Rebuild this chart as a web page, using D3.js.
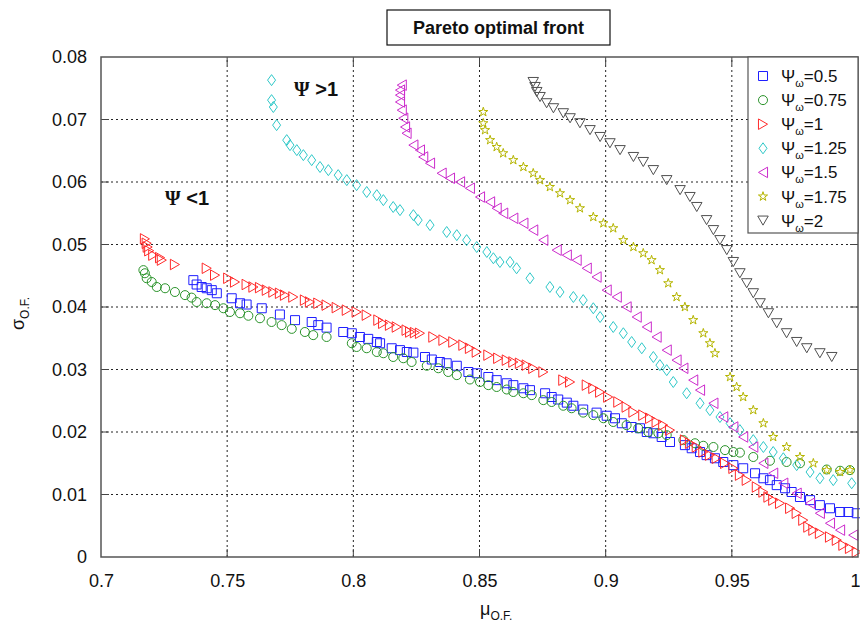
<!DOCTYPE html>
<html><head><meta charset="utf-8">
<script src="https://cdn.jsdelivr.net/npm/d3@7"></script>
<style>body{margin:0;background:#fff}svg{display:block}text{font-family:"Liberation Sans",Arial,sans-serif}</style>
</head><body>
<svg id="c" width="860" height="627"></svg>
<script>
const xTicks=[0.7,0.75,0.8,0.85,0.9,0.95,1];
const yTicks=[0,0.01,0.02,0.03,0.04,0.05,0.06,0.07,0.08];
const seriesNames=["0.5","0.75","1","1.25","1.5","1.75","2"];
const psi05=[[0.7366,0.0443],[0.7379,0.0436],[0.7399,0.0432],[0.7419,0.0430],[0.7439,0.0427],[0.7459,0.0422],[0.7518,0.0414],[0.7551,0.0406],[0.7577,0.0404],[0.7637,0.0398],[0.7709,0.0388],[0.7769,0.0379],[0.7835,0.0376],[0.7861,0.0371],[0.7894,0.0367],[0.7960,0.0360],[0.7994,0.0358],[0.8026,0.0352],[0.8059,0.0349],[0.8093,0.0344],[0.8106,0.0342],[0.8152,0.0334],[0.8185,0.0331],[0.8212,0.0328],[0.8238,0.0327],[0.8284,0.0320],[0.8311,0.0316],[0.8343,0.0312],[0.8370,0.0310],[0.8410,0.0306],[0.8456,0.0296],[0.8489,0.0294],[0.8535,0.0288],[0.8568,0.0283],[0.8608,0.0278],[0.8634,0.0275],[0.8674,0.0270],[0.8700,0.0267],[0.8760,0.0262],[0.8786,0.0256],[0.8812,0.0252],[0.8846,0.0247],[0.8872,0.0242],[0.8911,0.0236],[0.8964,0.0231],[0.9004,0.0226],[0.9037,0.0222],[0.9064,0.0214],[0.9103,0.0208],[0.9136,0.0206],[0.9163,0.0200],[0.9189,0.0198],[0.9222,0.0192],[0.9255,0.0184],[0.9314,0.0179],[0.9341,0.0174],[0.9374,0.0168],[0.9400,0.0163],[0.9433,0.0158],[0.9466,0.0152],[0.9506,0.0147],[0.9545,0.0142],[0.9592,0.0134],[0.9625,0.0126],[0.9651,0.0123],[0.9678,0.0115],[0.9711,0.0110],[0.9737,0.0104],[0.9770,0.0096],[0.9810,0.0091],[0.9849,0.0083],[0.9889,0.0078],[0.9929,0.0072],[0.9962,0.0072],[0.9995,0.0070]];
const psi075=[[0.7168,0.0459],[0.7174,0.0454],[0.7181,0.0446],[0.7201,0.0440],[0.7221,0.0432],[0.7254,0.0430],[0.7293,0.0424],[0.7333,0.0419],[0.7359,0.0415],[0.7379,0.0408],[0.7419,0.0406],[0.7452,0.0403],[0.7485,0.0398],[0.7511,0.0392],[0.7551,0.0390],[0.7584,0.0386],[0.7630,0.0382],[0.7676,0.0376],[0.7716,0.0371],[0.7756,0.0365],[0.7808,0.0360],[0.7841,0.0355],[0.7894,0.0352],[0.7994,0.0342],[0.8013,0.0336],[0.8053,0.0334],[0.8093,0.0328],[0.8119,0.0326],[0.8158,0.0320],[0.8198,0.0318],[0.8231,0.0312],[0.8291,0.0306],[0.8337,0.0302],[0.8376,0.0296],[0.8410,0.0291],[0.8462,0.0284],[0.8502,0.0280],[0.8535,0.0275],[0.8568,0.0272],[0.8608,0.0268],[0.8634,0.0264],[0.8674,0.0262],[0.8707,0.0259],[0.8753,0.0251],[0.8786,0.0248],[0.8832,0.0242],[0.8865,0.0238],[0.8911,0.0231],[0.8951,0.0227],[0.8991,0.0222],[0.9030,0.0216],[0.9083,0.0211],[0.9129,0.0206],[0.9169,0.0200],[0.9209,0.0198],[0.9242,0.0195],[0.9308,0.0187],[0.9354,0.0182],[0.9387,0.0178],[0.9427,0.0176],[0.9473,0.0171],[0.9506,0.0168],[0.9532,0.0167],[0.9585,0.0160],[0.9651,0.0154],[0.9717,0.0152],[0.9770,0.0150],[0.9876,0.0140],[0.9929,0.0138],[0.9968,0.0139]];
const psi1=[[0.7174,0.0509],[0.7181,0.0502],[0.7185,0.0496],[0.7191,0.0490],[0.7207,0.0483],[0.7234,0.0479],[0.7241,0.0475],[0.7293,0.0468],[0.7419,0.0462],[0.7452,0.0451],[0.7504,0.0446],[0.7531,0.0440],[0.7577,0.0436],[0.7604,0.0432],[0.7630,0.0431],[0.7657,0.0427],[0.7683,0.0424],[0.7709,0.0422],[0.7729,0.0419],[0.7762,0.0416],[0.7808,0.0411],[0.7828,0.0408],[0.7861,0.0406],[0.7894,0.0403],[0.7934,0.0399],[0.7974,0.0395],[0.8013,0.0392],[0.8053,0.0387],[0.8099,0.0379],[0.8118,0.0374],[0.8145,0.0371],[0.8172,0.0368],[0.8211,0.0363],[0.8225,0.0360],[0.8244,0.0359],[0.8264,0.0358],[0.8317,0.0352],[0.8357,0.0347],[0.8396,0.0344],[0.8436,0.0339],[0.8462,0.0334],[0.8489,0.0328],[0.8535,0.0323],[0.8574,0.0318],[0.8608,0.0315],[0.8634,0.0312],[0.8660,0.0310],[0.8687,0.0307],[0.8713,0.0302],[0.8753,0.0296],[0.8832,0.0283],[0.8859,0.0280],[0.8925,0.0275],[0.8951,0.0270],[0.8978,0.0264],[0.9010,0.0256],[0.9050,0.0248],[0.9083,0.0240],[0.9110,0.0232],[0.9149,0.0227],[0.9176,0.0222],[0.9202,0.0216],[0.9228,0.0211],[0.9255,0.0203],[0.9314,0.0187],[0.9334,0.0182],[0.9361,0.0176],[0.9387,0.0168],[0.9413,0.0163],[0.9440,0.0158],[0.9473,0.0150],[0.9506,0.0142],[0.9532,0.0131],[0.9559,0.0123],[0.9599,0.0112],[0.9625,0.0104],[0.9645,0.0096],[0.9664,0.0091],[0.9691,0.0086],[0.9731,0.0078],[0.9757,0.0070],[0.9783,0.0059],[0.9803,0.0048],[0.9823,0.0043],[0.9849,0.0038],[0.9889,0.0032],[0.9916,0.0027],[0.9942,0.0019],[0.9968,0.0014],[0.9995,0.0008]];
const psi125=[[0.7676,0.0763],[0.7676,0.0731],[0.7683,0.0720],[0.7696,0.0691],[0.7736,0.0667],[0.7749,0.0659],[0.7776,0.0651],[0.7802,0.0643],[0.7835,0.0635],[0.7868,0.0624],[0.7901,0.0619],[0.7940,0.0611],[0.7974,0.0603],[0.8013,0.0595],[0.8053,0.0584],[0.8093,0.0579],[0.8119,0.0571],[0.8158,0.0560],[0.8185,0.0555],[0.8238,0.0547],[0.8257,0.0539],[0.8304,0.0531],[0.8370,0.0520],[0.8410,0.0515],[0.8449,0.0507],[0.8489,0.0496],[0.8529,0.0488],[0.8555,0.0478],[0.8581,0.0472],[0.8621,0.0472],[0.8647,0.0462],[0.8700,0.0446],[0.8779,0.0432],[0.8819,0.0424],[0.8872,0.0416],[0.8911,0.0411],[0.8951,0.0398],[0.8978,0.0384],[0.9030,0.0368],[0.9070,0.0358],[0.9103,0.0344],[0.9143,0.0334],[0.9189,0.0320],[0.9215,0.0307],[0.9242,0.0299],[0.9268,0.0280],[0.9321,0.0262],[0.9374,0.0246],[0.9413,0.0235],[0.9453,0.0224],[0.9493,0.0214],[0.9532,0.0203],[0.9585,0.0187],[0.9625,0.0176],[0.9664,0.0168],[0.9704,0.0158],[0.9757,0.0147],[0.9810,0.0136],[0.9849,0.0126],[0.9902,0.0123],[0.9975,0.0118]];
const psi15=[[0.8192,0.0755],[0.8185,0.0747],[0.8185,0.0739],[0.8185,0.0728],[0.8192,0.0715],[0.8198,0.0702],[0.8205,0.0688],[0.8211,0.0678],[0.8238,0.0659],[0.8264,0.0651],[0.8277,0.0640],[0.8304,0.0630],[0.8350,0.0614],[0.8383,0.0606],[0.8423,0.0600],[0.8462,0.0590],[0.8502,0.0576],[0.8542,0.0568],[0.8568,0.0558],[0.8594,0.0550],[0.8634,0.0542],[0.8674,0.0534],[0.8713,0.0523],[0.8753,0.0507],[0.8806,0.0491],[0.8846,0.0483],[0.8885,0.0475],[0.8925,0.0462],[0.8964,0.0448],[0.9004,0.0427],[0.9044,0.0416],[0.9083,0.0400],[0.9123,0.0384],[0.9163,0.0368],[0.9202,0.0352],[0.9242,0.0331],[0.9281,0.0315],[0.9308,0.0302],[0.9347,0.0283],[0.9374,0.0267],[0.9427,0.0246],[0.9466,0.0224],[0.9506,0.0208],[0.9545,0.0192],[0.9585,0.0176],[0.9625,0.0150],[0.9664,0.0134],[0.9704,0.0118],[0.9757,0.0102],[0.9810,0.0086],[0.9849,0.0070],[0.9889,0.0054],[0.9929,0.0043],[0.9981,0.0035]];
const psi175=[[0.8515,0.0712],[0.8515,0.0694],[0.8522,0.0683],[0.8542,0.0667],[0.8568,0.0656],[0.8594,0.0646],[0.8634,0.0635],[0.8674,0.0624],[0.8713,0.0614],[0.8740,0.0603],[0.8779,0.0592],[0.8819,0.0582],[0.8859,0.0571],[0.8898,0.0558],[0.8951,0.0544],[0.8991,0.0534],[0.9030,0.0526],[0.9070,0.0507],[0.9110,0.0496],[0.9149,0.0486],[0.9182,0.0475],[0.9215,0.0459],[0.9248,0.0438],[0.9281,0.0416],[0.9314,0.0400],[0.9347,0.0379],[0.9387,0.0358],[0.9413,0.0342],[0.9433,0.0326],[0.9493,0.0288],[0.9519,0.0272],[0.9545,0.0256],[0.9585,0.0235],[0.9625,0.0214],[0.9664,0.0192],[0.9717,0.0176],[0.9770,0.0160],[0.9823,0.0150],[0.9876,0.0139],[0.9929,0.0136],[0.9968,0.0139]];
const psi2=[[0.8713,0.0760],[0.8720,0.0752],[0.8727,0.0744],[0.8740,0.0736],[0.8766,0.0726],[0.8793,0.0718],[0.8832,0.0710],[0.8859,0.0702],[0.8898,0.0694],[0.8938,0.0683],[0.8978,0.0672],[0.9017,0.0662],[0.9057,0.0651],[0.9110,0.0640],[0.9149,0.0632],[0.9189,0.0619],[0.9242,0.0603],[0.9295,0.0587],[0.9334,0.0576],[0.9361,0.0560],[0.9400,0.0539],[0.9427,0.0523],[0.9453,0.0507],[0.9480,0.0491],[0.9506,0.0472],[0.9532,0.0454],[0.9559,0.0438],[0.9585,0.0422],[0.9612,0.0406],[0.9645,0.0390],[0.9678,0.0374],[0.9717,0.0358],[0.9757,0.0344],[0.9797,0.0334],[0.9849,0.0326],[0.9896,0.0320]];
const seriesData=[psi05,psi075,psi1,psi125,psi15,psi175,psi2];
const colors=["#1f1fff","#2a932a","#ff2a2a","#2ec8c8","#cc2ccc","#b5b500","#505050"];

const svg=d3.select("#c");
const x=d3.scaleLinear().domain([0.7,1]).range([101,858]);
const y=d3.scaleLinear().domain([0,0.08]).range([557,57]);

// grid
const g=svg.append("g");
g.selectAll(".gx").data(xTicks.slice(1,-1)).join("line")
 .attr("x1",d=>x(d)).attr("x2",d=>x(d)).attr("y1",y(0)).attr("y2",y(0.08))
 .attr("stroke","#222").attr("stroke-dasharray","2,3").attr("stroke-width",1);
g.selectAll(".gy").data(yTicks.slice(1,-1)).join("line")
 .attr("y1",d=>y(d)).attr("y2",d=>y(d)).attr("x1",x(0.7)).attr("x2",x(1))
 .attr("stroke","#222").attr("stroke-dasharray","2,3").attr("stroke-width",1);
// inward ticks
xTicks.slice(1,-1).forEach(t=>{
  g.append("line").attr("x1",x(t)).attr("x2",x(t)).attr("y1",y(0)).attr("y2",y(0)-8).attr("stroke","#444");
  g.append("line").attr("x1",x(t)).attr("x2",x(t)).attr("y1",y(0.08)).attr("y2",y(0.08)+8).attr("stroke","#444");
});
yTicks.slice(1,-1).forEach(t=>{
  g.append("line").attr("y1",y(t)).attr("y2",y(t)).attr("x1",x(0.7)).attr("x2",x(0.7)+8).attr("stroke","#444");
  g.append("line").attr("y1",y(t)).attr("y2",y(t)).attr("x1",x(1)).attr("x2",x(1)-8).attr("stroke","#444");
});

// axes labels
const xa=svg.append("g").attr("transform",`translate(0,${y(0)})`)
 .call(d3.axisBottom(x).tickValues(xTicks).tickSize(0).tickPadding(17).tickFormat(d=>String(+d.toFixed(2))));
xa.select(".domain").remove();
xa.selectAll("text").attr("font-size",18).attr("fill","#111").style("font-family","'Liberation Sans',Arial,sans-serif");
xa.selectAll("text").filter(d=>d===1).attr("text-anchor","end").attr("dx",2);
const ya=svg.append("g").attr("transform",`translate(${x(0.7)},0)`)
 .call(d3.axisLeft(y).tickValues(yTicks).tickSize(0).tickPadding(14).tickFormat(d=>String(+d.toFixed(2))));
ya.select(".domain").remove();
ya.selectAll("text").attr("font-size",18).attr("fill","#111").style("font-family","'Liberation Sans',Arial,sans-serif");

// markers
function trianglePath(dir,s){
  const h=s*0.866;
  if(dir==="right") return `M${-h/2},${-s/2}L${h/2},0L${-h/2},${s/2}Z`;
  if(dir==="left") return `M${h/2},${-s/2}L${-h/2},0L${h/2},${s/2}Z`;
  return `M${-s/2},${-h/2}L${s/2},${-h/2}L0,${h/2}Z`;
}
const markerPaths=[
  "M-4.5,-4.5H4.5V4.5H-4.5Z",
  d3.symbol(d3.symbolCircle,64)(),
  trianglePath("right",10.5),
  "M0,-5.5L4,0L0,5.5L-4,0Z",
  trianglePath("left",10.5),
  d3.symbol(d3.symbolStar,26)(),
  trianglePath("down",10.5)
];
seriesData.forEach((data,i)=>{
  svg.append("g").selectAll("path").data(data).join("path")
   .attr("d",markerPaths[i])
   .attr("transform",d=>`translate(${x(d[0])},${y(d[1])})`)
   .attr("fill","none").attr("stroke",colors[i]).attr("stroke-width",1);
});

// frame
svg.append("rect").attr("x",x(0.7)).attr("y",y(0.08)).attr("width",x(1)-x(0.7)).attr("height",y(0)-y(0.08))
 .attr("fill","none").attr("stroke","#555").attr("stroke-width",1.5);

// legend
const lg=svg.append("g");
lg.append("rect").attr("x",748).attr("y",57).attr("width",110).attr("height",176)
 .attr("fill","#fff").attr("stroke","#555").attr("stroke-width",1.2);
seriesNames.forEach((n,i)=>{
  const cy=76+i*24.1;
  lg.append("path").attr("d",markerPaths[i]).attr("transform",`translate(763,${cy})`)
   .attr("fill","none").attr("stroke",colors[i]).attr("stroke-width",1);
  const t=lg.append("text").attr("x",781).attr("y",cy+6).attr("font-size",17).attr("fill","#111");
  t.append("tspan").text("Ψ");
  t.append("tspan").attr("font-size",11).attr("dy",5).text("ω");
  t.append("tspan").attr("dy",-5).text("="+n);
});

// title
svg.append("rect").attr("x",387).attr("y",10).attr("width",223).attr("height",35)
 .attr("fill","#fff").attr("stroke","#111").attr("stroke-width",1.2);
svg.append("text").attr("x",498.5).attr("y",34).attr("text-anchor","middle")
 .attr("font-size",18).attr("font-weight","bold").attr("fill","#111").text("Pareto optimal front");

// annotations
function annot(px,py,txt){
  const t=svg.append("text").attr("x",px).attr("y",py).attr("font-size",20).attr("font-weight","bold").attr("fill","#111");
  t.append("tspan").style("font-family","'Liberation Serif',serif").text("Ψ");
  t.append("tspan").text(" "+txt);
}
annot(x(0.7254),y(0.0563),"<1");
annot(x(0.7765),y(0.0738),">1");

// axis titles
const xt=svg.append("text").attr("x",480).attr("y",615).attr("font-size",18).attr("fill","#111");
xt.append("tspan").text("μ");
xt.append("tspan").attr("font-size",12).attr("dy",5).text("O.F.");
const yt=svg.append("text").attr("transform","translate(24,330) rotate(-90)").attr("font-size",18).attr("fill","#111");
yt.append("tspan").text("σ");
yt.append("tspan").attr("font-size",12).attr("dy",5).text("O.F.");
</script>
</body></html>
